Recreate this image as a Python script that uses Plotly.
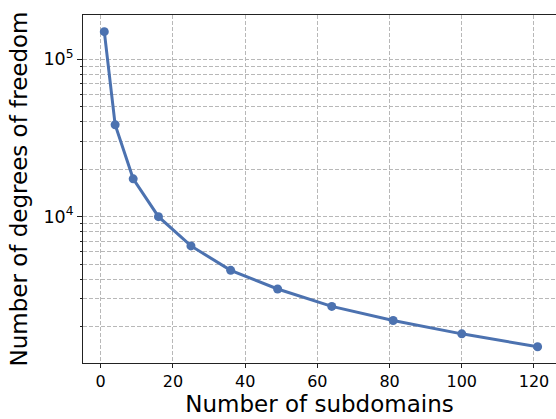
import plotly.graph_objects as go

subdomains = [1, 4, 9, 16, 25, 36, 49, 64, 81, 100, 121]
dofs = [150000, 38400, 17400, 10000, 6520, 4560, 3470, 2690, 2190, 1800, 1490]

y_major = [1e4, 1e5]
y_major_text = ["10<sup>4</sup>", "10<sup>5</sup>"]
y_minor = [2000, 3000, 4000, 5000, 6000, 7000, 8000, 9000,
           20000, 30000, 40000, 50000, 60000, 70000, 80000, 90000]
x_ticks = [0, 20, 40, 60, 80, 100, 120]

fig = go.Figure()
fig.add_trace(go.Scatter(
    x=subdomains, y=dofs, mode="lines+markers",
    line=dict(color="#4C72B0", width=3),
    marker=dict(color="#4C72B0", size=9),
    showlegend=False,
))

grid = "#b8b8b8"
fig.update_layout(
    width=556, height=419,
    margin=dict(l=83, r=0, t=15, b=56),
    paper_bgcolor="white", plot_bgcolor="white",
    font=dict(family="DejaVu Sans", color="black"),
    xaxis=dict(
        range=[-4.9, 126.1], tickvals=x_ticks,
        showgrid=True, gridcolor=grid, gridwidth=1, griddash="4px,2px",
        showline=True, linecolor="#222", linewidth=1, mirror=True,
        ticks="outside", ticklen=4, tickcolor="#222",
        tickfont=dict(size=16), zeroline=False,
        title=dict(text="Number of subdomains", font=dict(size=23), standoff=4),
    ),
    yaxis=dict(
        type="log", range=[3.070, 5.282],
        tickvals=y_major, ticktext=y_major_text,
        showgrid=True, gridcolor=grid, gridwidth=1, griddash="4px,2px",
        minor=dict(tickvals=y_minor, showgrid=True, gridcolor=grid,
                   griddash="4px,2px", ticks="outside", ticklen=2, tickcolor="#222"),
        showline=True, linecolor="#222", linewidth=1,
        ticks="outside", ticklen=5, tickcolor="#222",
        tickfont=dict(size=17.5), zeroline=False,
        title=dict(text="Number of degrees of freedom", font=dict(size=23), standoff=9),
    ),
)

fig.write_html("out.html")
